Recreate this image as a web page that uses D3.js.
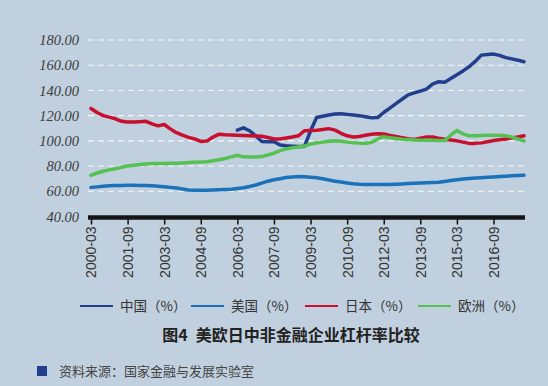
<!DOCTYPE html>
<html><head><meta charset="utf-8">
<script src="https://cdn.jsdelivr.net/npm/d3@7"></script>
<style>
html,body{margin:0;padding:0;background:#c1d0de;}
svg{display:block;}
</style></head>
<body>
<svg id="chart" width="548" height="386"></svg>
<script>
// quarterly, 2000-03 .. 2017-12
const startYear = 2000;
const nQuarters = 72;
const tickLabels = ["2000-03","2001-09","2003-03","2004-09","2006-03","2007-09","2009-03","2010-09","2012-03","2013-09","2015-03","2016-09"];
const yTicks = [40,60,80,100,120,140,160,180];
const seriesNames = ["中国（%）","美国（%）","日本（%）","欧洲（%）"];
const seriesColors = ["#213f8c","#1a72bb","#c8102e","#55c150"];

const china = [null,null,null,null,null,null,null,null,null,null,null,null,null,null,null,null,null,null,null,null,null,null,null,null,
 108.5,110.3,108,104,99.5,99.3,99.3,96.8,96.2,95.8,95.5,95.5,108,118.5,119.5,120.5,121.3,121.5,121,120.5,120,119.2,118.3,118.5,
 122.5,126,129.5,133,136.5,138,139.5,141,145,146.9,146.5,149.5,152.5,155.5,158.8,163,168,168.5,168.8,167.8,166,165,164,162.8];
const usa = [63.1,63.5,63.9,64.3,64.5,64.6,64.7,64.7,64.6,64.5,64.3,64,63.6,63.1,62.6,61.8,61,60.8,60.8,60.9,61,61.2,61.5,61.7,
 62.2,62.8,63.8,65,66.5,68,69.1,70,70.9,71.4,71.8,71.6,71.2,70.7,70,69,68,67.3,66.6,66,65.6,65.4,65.3,65.3,
 65.3,65.4,65.6,65.8,66.1,66.3,66.5,66.7,66.9,67.2,67.8,68.5,69.2,69.8,70.2,70.5,70.8,71.1,71.4,71.7,72,72.3,72.6,72.8];
const japan = [125.7,122.5,120,118.8,117.5,115.5,115,115,115.2,115.5,113.5,111.9,113,109.5,106.5,104.5,102.8,101.5,99.5,99.8,103,105.3,104.8,104.6,
 104.5,104.3,104.1,103.9,103.7,102.7,101.5,101.5,102.2,103,104,108,108.3,108.4,109,109.7,108.5,106,104,103,103.5,104.5,105.2,105.7,
 105.5,104.3,103.5,102.5,101.6,101.1,102,103,103,102,101.2,100.6,100,99,98,98,98.4,99.3,100.2,100.8,101.5,102.3,103,104];
const europe = [72.7,74.5,75.9,77,77.8,79,80,80.6,81.2,81.6,82,82,82,82.2,82.3,82.5,82.8,83.1,83.3,83.5,84.2,85,86,87.3,
 88.6,87.3,87.2,87.2,87.5,88.8,90.2,92.2,93.6,94.5,95.2,95.8,97.5,98.3,99,99.6,100,99.7,99,98.5,98.2,97.9,98.8,101.5,
 103.3,102.5,101.8,101.2,101,100.7,100.5,100.5,100.5,100.3,100.2,104.5,108.3,105.5,104,104,104.2,104.4,104.5,104.5,104,103,101.5,100];

const quarters = d3.range(nQuarters).map(i => `${startYear + Math.floor(i/4)}-${String((i%4+1)*3).padStart(2,"0")}`);
const series = [china, usa, japan, europe];

const svg = d3.select("#chart");
const x = d3.scalePoint().domain(quarters).range([91, 524]);
const y = d3.scaleLinear().domain([40, 180]).range([216.5, 40]);

// grid
svg.append("g").selectAll("line").data(yTicks.filter(d => d > 40)).join("line")
  .attr("x1", 88).attr("x2", 525)
  .attr("y1", d => y(d)).attr("y2", d => y(d))
  .attr("stroke", "#ffffff").attr("stroke-width", 1.1).attr("stroke-dasharray", "6,4").attr("opacity", 0.85);

// y labels
svg.append("g").selectAll("text").data(yTicks).join("text")
  .attr("x", 79).attr("y", d => y(d)).attr("dy", "0.35em")
  .attr("text-anchor", "end")
  .style("font-family", "'Liberation Serif', serif").style("font-style", "italic")
  .style("font-size", "14.5px").attr("fill", "#3c3c3c")
  .text(d => d.toFixed(2));

// lines
const line = d3.line().defined(d => d.v != null).x(d => x(d.q)).y(d => y(d.v)).curve(d3.curveLinear);
series.forEach((s, k) => {
  svg.append("path")
    .datum(s.map((v, i) => ({q: quarters[i], v})))
    .attr("fill", "none").attr("stroke", seriesColors[k]).attr("stroke-width", 3.5)
    .attr("stroke-linejoin", "round").attr("stroke-linecap", "round")
    .attr("d", line);
});

// x axis
const xAxis = d3.axisBottom(x).tickValues(tickLabels).tickSize(7).tickSizeOuter(0);
const gx = svg.append("g").attr("transform", `translate(0,${y(40)+1})`).call(xAxis);
gx.select(".domain").remove();
gx.selectAll(".tick line").attr("stroke", "#111").attr("stroke-width", 1.5);
gx.selectAll(".tick text")
  .attr("transform", "rotate(-90)").attr("x", -9).attr("y", 0).attr("dy", "0.35em")
  .attr("text-anchor", "end")
  .style("font-family", "'Liberation Sans', Arial, sans-serif").style("font-size", "14px").attr("fill", "#333");
svg.append("line").attr("x1", 88).attr("x2", 525).attr("y1", y(40)+1).attr("y2", y(40)+1)
  .attr("stroke", "#151515").attr("stroke-width", 4.5);

// legend
const legX = [80, 191, 305, 418];
const lg = svg.append("g");
seriesNames.forEach((n, k) => {
  lg.append("line").attr("x1", legX[k]).attr("x2", legX[k] + 33).attr("y1", 306).attr("y2", 306)
    .attr("stroke", seriesColors[k]).attr("stroke-width", 2);
  lg.append("text").attr("x", legX[k] + 40).attr("y", 306).attr("dy", "0.36em")
    .style("font-family", "'Noto Sans CJK SC', sans-serif").style("font-size", "13.5px").attr("fill", "#333")
    .text(n);
});

// title
svg.append("text").attr("x", 291).attr("y", 335).attr("dy", "0.36em").attr("text-anchor", "middle")
  .style("font-family", "'Noto Sans CJK SC', sans-serif").style("font-size", "16px").style("font-weight", "bold")
  .attr("fill", "#222").text("图4\u2002美欧日中非金融企业杠杆率比较");

// source
svg.append("rect").attr("x", 37).attr("y", 366).attr("width", 10).attr("height", 10).attr("fill", "#213f8c");
svg.append("text").attr("x", 59).attr("y", 371).attr("dy", "0.36em")
  .style("font-family", "'Noto Sans CJK SC', sans-serif").style("font-size", "13px").attr("fill", "#444")
  .text("资料来源：国家金融与发展实验室");
</script>
</body></html>
